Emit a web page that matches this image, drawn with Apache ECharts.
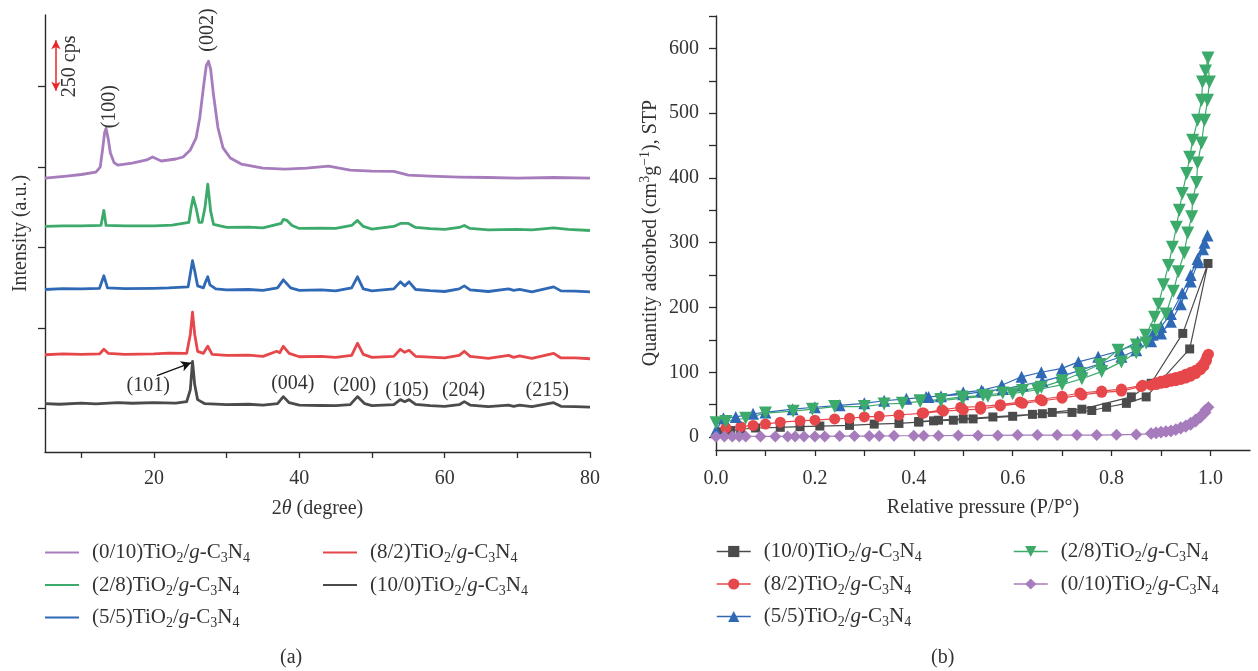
<!DOCTYPE html>
<html>
<head>
<meta charset="utf-8">
<script src="https://cdn.jsdelivr.net/npm/echarts@6/dist/echarts.min.js"></script>
<style>
html,body{margin:0;padding:0;background:#fff;}
#chart{width:1258px;height:671px;}
</style>
</head>
<body>
<div id="chart"></div>
<script>
// ---------- XRD patterns: [2θ (deg), intensity (cps, stacked offset)] ----------
const xrd10_0 = [[5,25],[7,22],[10,28],[12,24],[15,30],[17,27],[20,30],[23,28],[24.5,35],[25.0,95],[25.3,235],[25.6,120],[26,45],[27,25],[30,20],[33,22],[35,18],[37,25],[37.8,60],[38.6,30],[40,18],[43,16],[45,15],[47,20],[48,60],[49,25],[50,15],[53,20],[53.9,45],[54.5,35],[55.1,45],[56,22],[58,15],[60,12],[62,20],[62.7,35],[63.5,18],[66,10],[68.8,18],[69.5,12],[70.3,18],[72,10],[75,30],[76,12],[78,10],[80,8]];
const xrd8_2 = [[5,268],[7.5,272],[10,270],[12.5,272],[13.1,295],[13.7,275],[16,270],[20,272],[22,276],[24.5,275],[25.0,370],[25.3,480],[25.6,370],[26,285],[26.8,275],[27.4,310],[28,270],[30,265],[33,266],[35,260],[36.9,285],[37.3,278],[37.8,310],[38.6,275],[40,258],[43,260],[45,255],[47.2,265],[48,325],[48.8,270],[50,255],[53,260],[53.9,295],[54.5,280],[55.1,290],[56,260],[58,256],[60,252],[62,265],[62.7,285],[63.5,260],[66,250],[68.8,265],[69.5,255],[70.3,262],[72,250],[75,275],[76,252],[78,252],[80,248]];
const xrd5_5 = [[5,592],[7.5,596],[10,595],[12.5,598],[13.1,660],[13.6,600],[16,596],[20,598],[22,600],[24.7,605],[25.0,670],[25.3,735],[25.6,685],[26,610],[26.8,600],[27.1,630],[27.4,655],[27.7,615],[28.5,595],[30,590],[33,592],[35,588],[37,600],[37.8,640],[38.8,600],[40,588],[43,590],[45,585],[47.2,600],[48,655],[48.8,595],[50,585],[53,595],[53.9,630],[54.5,610],[55.1,630],[56,592],[58,586],[60,582],[62,595],[62.7,610],[63.5,590],[66,582],[68.8,595],[69.5,588],[70.3,592],[72,580],[75,605],[76,585],[78,584],[80,580]];
const xrd2_8 = [[5,905],[7.5,908],[10,908],[12.7,910],[13.1,985],[13.4,910],[16,908],[20,908],[22.5,912],[24.8,925],[25.1,995],[25.4,1050],[25.8,995],[26.2,925],[26.6,925],[27.0,995],[27.4,1115],[27.8,980],[28.2,915],[30,900],[33,902],[35,898],[37.5,920],[37.8,940],[38.3,935],[39,910],[40,895],[43,897],[45,895],[47.2,910],[48,935],[48.8,905],[50,892],[53,905],[53.9,920],[55,920],[56,900],[58,894],[60,890],[62,900],[62.7,910],[63.5,895],[66,888],[70,890],[72,888],[75,898],[77,890],[80,885]];
const xrd0_10 = [[5,1145],[8,1155],[10,1163],[12,1175],[12.6,1200],[12.9,1280],[13.2,1370],[13.4,1392],[13.7,1340],[14.0,1270],[14.5,1222],[15,1210],[17,1220],[19,1235],[19.8,1250],[21,1230],[23,1240],[24,1250],[25,1285],[25.8,1345],[26.3,1445],[26.8,1595],[27.2,1705],[27.5,1725],[27.8,1685],[28.2,1555],[28.8,1395],[29.5,1295],[30.5,1245],[32,1215],[35,1195],[38,1190],[41,1195],[44,1205],[47,1185],[50,1180],[53,1178],[55,1160],[58,1155],[62,1150],[66,1148],[70,1145],[75,1148],[80,1145]];

// Miller-index labels on the XRD panel: [text, 2θ, intensity, rotated]
const xrdPeakLabels = [
  ['(101)', 19.2, 115, false], ['(004)', 39.1, 125, false], ['(200)', 47.6, 115, false],
  ['(105)', 54.8, 90, false], ['(204)', 62.6, 90, false], ['(215)', 74.1, 90, false],
  ['(100)', 13.9, 1500, true], ['(002)', 27.4, 1880, true], ['250 cps', 8.4, 1700, true]
];
const arrow101 = [[20.4, 164], [25.1, 228]];
const scaleBar = [[6.5, 1579], [6.5, 1829]]; // 250 cps

// ---------- N2 isotherms: [P/P0, quantity adsorbed] (adsorption then desorption) ----------
const betAds10_0 = [[0.01,8],[0.03,10],[0.05,12],[0.08,14],[0.13,15],[0.17,16],[0.21,17],[0.27,18],[0.32,20],[0.37,21],[0.41,23],[0.44,25],[0.48,26],[0.52,28],[0.60,32],[0.66,36],[0.72,38],[0.76,41],[0.79,46],[0.83,52],[0.87,62],[0.958,136],[0.995,268]];
const betDes10_0 = [[0.944,160],[0.88,83],[0.84,62],[0.74,43],[0.68,38],[0.64,35],[0.56,31],[0.50,28],[0.45,26],[0.41,24]];
const betAds8_2 = [[0.02,14],[0.05,16],[0.075,18],[0.1,20],[0.13,23],[0.17,25],[0.2,26],[0.24,28],[0.27,29],[0.3,31],[0.33,32],[0.37,34],[0.42,37],[0.46,40],[0.5,42],[0.535,43],[0.575,48],[0.62,52],[0.66,56],[0.7,60],[0.74,65],[0.78,69],[0.82,71],[0.86,78],[0.88,80],[0.89,81],[0.9,83],[0.91,84],[0.92,86],[0.93,87],[0.94,89],[0.95,91],[0.96,94],[0.97,98],[0.98,104],[0.987,110],[0.992,118],[0.996,128]];
const betDes8_2 = [[0.993,124],[0.99,118],[0.985,112],[0.98,108],[0.97,103],[0.96,100],[0.95,97],[0.94,94],[0.93,92],[0.92,90],[0.91,88],[0.9,86],[0.89,84],[0.863,80],[0.82,74],[0.78,71],[0.736,68],[0.7,63],[0.656,58],[0.615,54],[0.575,50],[0.535,47],[0.495,46],[0.457,42],[0.417,37]];
const betAds5_5 = [[0.0,10],[0.015,29],[0.04,31],[0.075,36],[0.1,38],[0.155,43],[0.2,46],[0.25,49],[0.3,52],[0.34,56],[0.385,59],[0.43,62],[0.5,66],[0.54,70],[0.58,74],[0.62,80],[0.66,86],[0.7,94],[0.74,104],[0.78,114],[0.82,124],[0.85,134],[0.88,148],[0.9,160],[0.92,178],[0.94,205],[0.96,240],[0.975,270],[0.985,290],[0.994,311]];
const betDes5_5 = [[0.988,300],[0.974,275],[0.96,250],[0.943,222],[0.92,190],[0.9,170],[0.883,158],[0.853,147],[0.817,133],[0.773,124],[0.733,116],[0.7,106],[0.658,100],[0.618,93],[0.578,80],[0.537,72],[0.5,69],[0.455,63],[0.425,62]];
const betAds2_8 = [[0.0,22],[0.02,24],[0.06,29],[0.1,37],[0.156,40],[0.195,43],[0.24,47],[0.3,47],[0.34,51],[0.377,52],[0.413,55],[0.455,56],[0.5,60],[0.55,63],[0.6,67],[0.65,73],[0.7,81],[0.74,90],[0.78,101],[0.82,116],[0.85,130],[0.87,145],[0.89,165],[0.91,190],[0.925,225],[0.935,255],[0.947,284],[0.954,315],[0.962,340],[0.964,366],[0.972,393],[0.974,423],[0.982,454],[0.988,489],[0.994,520],[0.998,548],[0.995,585]];
const betDes2_8 = [[0.99,565],[0.984,548],[0.982,520],[0.974,489],[0.964,458],[0.958,432],[0.952,407],[0.943,376],[0.937,350],[0.931,324],[0.923,293],[0.915,265],[0.905,235],[0.895,205],[0.887,185],[0.869,157],[0.85,142],[0.813,134],[0.776,112],[0.736,98],[0.7,87],[0.658,77],[0.62,72],[0.58,68],[0.54,64],[0.497,62],[0.455,58],[0.413,56]];
const betAds0_10 = [[0.0,0.5],[0.017,1],[0.033,1],[0.047,1],[0.06,1],[0.09,1],[0.12,1],[0.145,1],[0.16,1],[0.178,1],[0.2,1],[0.22,1],[0.25,1.5],[0.28,1.5],[0.31,1.5],[0.33,1.5],[0.36,2],[0.4,2],[0.42,2],[0.45,2],[0.49,2.5],[0.53,2.5],[0.57,2.5],[0.61,3],[0.65,3],[0.69,3],[0.73,3],[0.77,3],[0.81,3.5],[0.85,4],[0.88,5],[0.89,6],[0.9,7],[0.91,8],[0.92,9],[0.93,11],[0.94,13],[0.95,16],[0.96,19],[0.97,24],[0.98,30],[0.99,38],[0.996,46]];
const betDes0_10 = [[0.99,42],[0.98,33],[0.97,27],[0.96,22],[0.95,18],[0.94,15],[0.93,12],[0.92,10],[0.91,9],[0.9,8],[0.89,7],[0.88,6]];

// ---------- Axis ticks ----------
const xrdXTicks = [10,20,30,40,50,60,70,80];
const xrdXLabels = [20,40,60,80];
const xrdYTicks = [0,400,800,1200,1600];
const betXTicks = [0,0.1,0.2,0.3,0.4,0.5,0.6,0.7,0.8,0.9,1.0];
const betXLabels = [0,0.2,0.4,0.6,0.8,1.0];
const betYTicks = [0,50,100,150,200,250,300,350,400,450,500,550,600,650];
const betYLabels = [0,100,200,300,400,500,600];

// ---------- Samples ----------
const samples = ['10/0','8/2','5/5','2/8','0/10'];
const colors = {'10/0':'#4b4b4b','8/2':'#e6474a','5/5':'#2f69b6','2/8':'#3caa6b','0/10':'#a67cbd'};
const markers = {'10/0':['rect',9,0],'8/2':['circle',11,0],'5/5':['triangle',12,0],'2/8':['triangle',13,180],'0/10':['diamond',12,0]};

const FONT = '"Liberation Serif","DejaVu Serif",serif';
const TXT = '#333';
const FS = 20;   // axis text
const LFS = 21;  // legend text

const rich = {
  n0:{fontFamily:FONT,fontSize:LFS,color:TXT,lineHeight:26,verticalAlign:'middle',padding:[0,0,0,8]},
  n:{fontFamily:FONT,fontSize:FS,color:TXT,lineHeight:26,verticalAlign:'middle'},
  ln:{fontFamily:FONT,fontSize:LFS,color:TXT,lineHeight:26,verticalAlign:'middle'},
  i:{fontFamily:FONT,fontSize:FS,color:TXT,lineHeight:26,verticalAlign:'middle',fontStyle:'italic'},
  li:{fontFamily:FONT,fontSize:LFS,color:TXT,lineHeight:26,verticalAlign:'middle',fontStyle:'italic'},
  s:{fontFamily:FONT,fontSize:14,color:TXT,lineHeight:14,verticalAlign:'bottom'},
  u:{fontFamily:FONT,fontSize:14,color:TXT,lineHeight:14,verticalAlign:'top'}
};
function sampleLabel(name){
  const r = name.split('-')[1];
  return '{n0|(' + r + ')TiO}{s|2}{ln|/}{li|g}{ln|-C}{s|3}{ln|N}{s|4}';
}

const xrdData = {'10/0':xrd10_0,'8/2':xrd8_2,'5/5':xrd5_5,'2/8':xrd2_8,'0/10':xrd0_10};
const betData = {
  '10/0':betAds10_0.concat(betDes10_0),'8/2':betAds8_2.concat(betDes8_2),
  '5/5':betAds5_5.concat(betDes5_5),'2/8':betAds2_8.concat(betDes2_8),'0/10':betAds0_10.concat(betDes0_10)
};

const series = [];
// XRD lines
samples.forEach(function(s){
  series.push({
    name:'xrd-' + s, type:'line', xAxisIndex:0, yAxisIndex:0, data:xrdData[s],
    symbol:'none', lineStyle:{color:colors[s], width:2.8, join:'round'}, itemStyle:{color:colors[s]}, z:2
  });
});
// annotations on the XRD panel
series[0].markPoint = {
  symbol:'circle', symbolSize:0, silent:true,
  data: xrdPeakLabels.map(function(p){
    return {coord:[p[1],p[2]], value:p[0], label:{show:true, position:'inside', formatter:p[0], rotate:p[3]?90:0,
      fontFamily:FONT, fontSize:FS, color:TXT}};
  })
};
series[0].markLine = {
  silent:true, symbol:['none','arrow'], symbolSize:[8,10], label:{show:false},
  lineStyle:{color:'#111', width:1.3, type:'solid'},
  data:[[{coord:arrow101[0]},{coord:arrow101[1]}]]
};
series[4].markLine = {
  silent:true, symbol:['arrow','arrow'], symbolSize:[7,9], label:{show:false},
  lineStyle:{color:'#e8262a', width:1.5, type:'solid'},
  data:[[{coord:scaleBar[0]},{coord:scaleBar[1]}]]
};
// isotherms
samples.forEach(function(s){
  const m = markers[s];
  series.push({
    name:'bet-' + s, type:'line', xAxisIndex:1, yAxisIndex:1, data:betData[s],
    symbol:m[0], symbolSize:m[1], symbolRotate:m[2], showAllSymbol:true,
    lineStyle:{color:colors[s], width:1.2}, itemStyle:{color:colors[s]}, z:3
  });
});

function legendXrd(names, left){
  return {
    orient:'vertical', left:left, top:542, padding:0, itemGap:9,
    icon:'rect', itemWidth:34, itemHeight:2, data:names, selectedMode:false,
    formatter:sampleLabel, textStyle:{fontFamily:FONT, fontSize:LFS, color:TXT, rich:rich}
  };
}
function legendBet(names, left){
  return {
    orient:'vertical', left:left, top:541, padding:0, itemGap:9,
    itemWidth:34, itemHeight:14, data:names, selectedMode:false,
    formatter:sampleLabel, textStyle:{fontFamily:FONT, fontSize:LFS, color:TXT, rich:rich},
    lineStyle:{width:1.5}
  };
}

const axisLine = {show:true, onZero:false, lineStyle:{color:'#2b2b2b', width:1.4}};
const labelStyle = {fontFamily:FONT, fontSize:FS, color:TXT};

const option = {
  animation:false,
  backgroundColor:'#fff',
  grid:[
    {left:45, top:15, width:545, height:437},
    {left:716, top:16, width:534, height:434}
  ],
  xAxis:[
    {type:'value', gridIndex:0, min:5, max:80,
     axisLine:axisLine, splitLine:{show:false},
     axisTick:{show:true, length:6, customValues:xrdXTicks, lineStyle:{color:'#2b2b2b', width:1.3}},
     axisLabel:Object.assign({customValues:xrdXLabels, margin:17}, labelStyle),
     name:'{n|2}{i|θ}{n| (degree)}', nameLocation:'middle', nameGap:44,
     nameTextStyle:{rich:rich}},
    {type:'value', gridIndex:1, min:0, max:1.08,
     axisLine:axisLine, splitLine:{show:false},
     axisTick:{show:true, length:6, customValues:betXTicks, lineStyle:{color:'#2b2b2b', width:1.3}},
     axisLabel:Object.assign({customValues:betXLabels, margin:19, formatter:function(v){return v.toFixed(1);}}, labelStyle),
     name:'Relative pressure (P/P°)', nameLocation:'middle', nameGap:48,
     nameTextStyle:labelStyle}
  ],
  yAxis:[
    {type:'value', gridIndex:0, min:-215, max:1955,
     axisLine:axisLine, splitLine:{show:false},
     axisTick:{show:true, length:7, customValues:xrdYTicks, lineStyle:{color:'#2b2b2b', width:1.3}},
     axisLabel:{show:false},
     name:'Intensity (a.u.)', nameLocation:'middle', nameGap:14, nameRotate:90,
     nameTextStyle:labelStyle},
    {type:'value', gridIndex:1, min:-20, max:650,
     axisLine:axisLine, splitLine:{show:false},
     axisTick:{show:true, length:7, customValues:betYTicks, lineStyle:{color:'#2b2b2b', width:1.3}},
     axisLabel:Object.assign({customValues:betYLabels, margin:17}, labelStyle),
     name:'{n|Quantity adsorbed (cm}{u|3}{n|g}{u|−1}{n|), STP}', nameLocation:'middle', nameGap:52, nameRotate:90,
     nameTextStyle:{rich:rich}}
  ],
  legend:[
    legendXrd(['xrd-0/10','xrd-2/8','xrd-5/5'], 45),
    legendXrd(['xrd-8/2','xrd-10/0'], 323),
    legendBet(['bet-10/0','bet-8/2','bet-5/5'], 716),
    legendBet(['bet-2/8','bet-0/10'], 1013)
  ],
  graphic:[
    {type:'text', left:280, top:648, style:{text:'(a)', font:FS + 'px ' + FONT, fill:TXT}},
    {type:'text', left:931, top:648, style:{text:'(b)', font:FS + 'px ' + FONT, fill:TXT}}
  ],
  series:series
};

const chart = echarts.init(document.getElementById('chart'), null, {renderer:'canvas'});
chart.setOption(option);
</script>
</body>
</html>
